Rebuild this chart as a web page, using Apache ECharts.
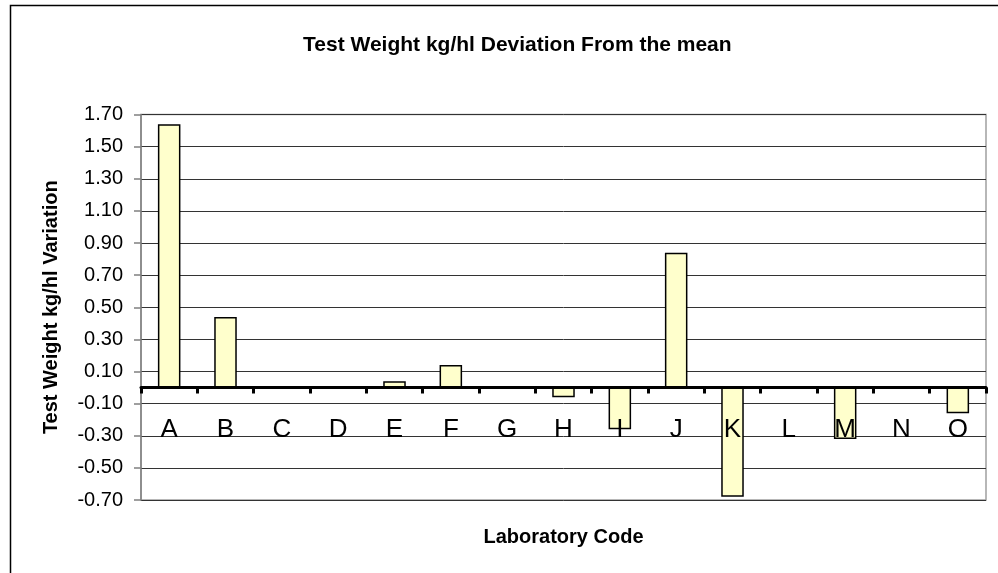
<!DOCTYPE html>
<html>
<head>
<meta charset="utf-8">
<script src="https://cdn.jsdelivr.net/npm/echarts@6/dist/echarts.min.js"></script>
<style>
  html, body { margin: 0; padding: 0; background: #fff; }
  #chart { width: 998px; height: 573px; }
</style>
</head>
<body>
<div id="chart"></div>
<script>
// laboratory codes
var labs = ["A", "B", "C", "D", "E", "F", "G", "H", "I", "J", "K", "L", "M", "N", "O"];
// deviation from the mean, kg/hl
var deviation = [1.64, 0.44, 0, 0, 0.04, 0.14, 0, -0.06, -0.26, 0.84, -0.68, 0, -0.32, 0, -0.16];
// y tick labels, bottom to top
var yTickLabels = ["-0.70", "-0.50", "-0.30", "-0.10", "0.10", "0.30", "0.50",
  "0.70", "0.90", "1.10", "1.30", "1.50", "1.70"];

var font = 'Arial, "Liberation Sans", sans-serif';

var chart = echarts.init(document.getElementById("chart"));
chart.setOption({
  animation: false,
  backgroundColor: "#fff",
  textStyle: { fontFamily: font },
  title: {
    text: "Test Weight kg/hl Deviation From the mean",
    left: 298,
    top: 30,
    textStyle: { fontFamily: font, fontSize: 21, fontWeight: "bold", color: "#000" }
  },
  // outer chart frame
  graphic: [{
    type: "rect",
    shape: { x: 10.5, y: 5.5, width: 1100, height: 700 },
    style: { fill: "none", stroke: "#000", lineWidth: 1.5 },
    silent: true
  }],
  grid: {
    left: 141,
    right: 12,
    top: 114.5,
    bottom: 73,
    outerBoundsMode: "none",
    containLabel: false,
    show: true,
    borderColor: "#a0a0a0",
    borderWidth: 1.5,
    backgroundColor: "#fff"
  },
  xAxis: {
    type: "category",
    data: labs,
    z: 3,
    name: "Laboratory Code",
    nameLocation: "middle",
    nameGap: 27,
    nameMoveOverlap: false,
    nameTextStyle: { fontFamily: font, fontSize: 20, fontWeight: "bold", color: "#000" },
    axisLine: { onZero: true, onZeroAxisIndex: 0, lineStyle: { color: "#000", width: 3 } },
    axisTick: { show: true, interval: 0, length: 6, lineStyle: { color: "#000", width: 3 } },
    axisLabel: { interval: 0, margin: -83, fontFamily: font, fontSize: 26, color: "#000" },
    splitLine: { show: false }
  },
  yAxis: [
    {
      // data axis
      type: "value",
      min: -0.7,
      max: 1.7,
      axisLine: { show: false },
      axisTick: { show: false },
      axisLabel: { show: false },
      splitLine: { show: false }
    },
    {
      // display axis: gridlines and labels
      type: "value",
      position: "left",
      offset: 0,
      min: 0,
      max: 2.4,
      interval: 0.2,
      name: "Test Weight kg/hl Variation",
      nameLocation: "middle",
      nameRotate: 90,
      nameGap: 80,
      nameTextStyle: { fontFamily: font, fontSize: 20, fontWeight: "bold", color: "#000" },
      axisLine: { show: true, lineStyle: { color: "#808080", width: 1.5 } },
      axisTick: { show: true, length: 7, lineStyle: { color: "#808080", width: 1.5 } },
      axisLabel: {
        margin: 18,
        fontFamily: font,
        fontSize: 20,
        color: "#000",
        formatter: function (v, i) { return yTickLabels[i]; }
      },
      splitLine: { show: true, lineStyle: { color: "#333", width: 1 } }
    }
  ],
  series: [{
    type: "bar",
    yAxisIndex: 0,
    data: deviation,
    barWidth: "40%",
    z: 2,
    itemStyle: { color: "#FFFFCC", borderColor: "#000", borderWidth: 1.5 }
  }]
});
</script>
</body>
</html>
